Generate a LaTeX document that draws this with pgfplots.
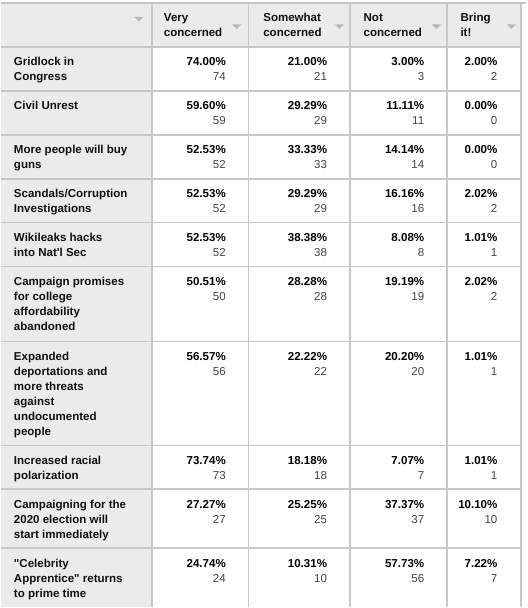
\documentclass[border=0pt]{standalone}
\usepackage{pgfplots}
\usepackage{pgfplotstable}
\pgfplotsset{compat=1.18}
\usepackage{fontspec}
\setmainfont{Liberation Sans}[Ligatures=TeXOff]
\definecolor{hdr}{HTML}{EBEBEB}
\definecolor{gridc}{HTML}{C8C8C8}
\definecolor{topc}{HTML}{C4C4C4}
\definecolor{tri}{HTML}{B8B8B8}
\definecolor{lbl}{HTML}{111111}
\definecolor{cntc}{HTML}{444444}
\newcommand\tf{\fontsize{11.55}{15}\selectfont}

% x = right edge of the cell text, y = baseline of the percentage line
\pgfplotstableread{
x y pct cnt
225.3 66 74.00 74
326.7 66 21.00 21
424.0 66 3.00 3
497.3 66 2.00 2
225.3 110 59.60 59
326.7 110 29.29 29
424.0 110 11.11 11
497.3 110 0.00 0
225.3 154 52.53 52
326.7 154 33.33 33
424.0 154 14.14 14
497.3 154 0.00 0
225.3 198 52.53 52
326.7 198 29.29 29
424.0 198 16.16 16
497.3 198 2.02 2
225.3 242 52.53 52
326.7 242 38.38 38
424.0 242 8.08 8
497.3 242 1.01 1
225.3 286 50.51 50
326.7 286 28.28 28
424.0 286 19.19 19
497.3 286 2.02 2
225.3 361 56.57 56
326.7 361 22.22 22
424.0 361 20.20 20
497.3 361 1.01 1
225.3 465 73.74 73
326.7 465 18.18 18
424.0 465 7.07 7
497.3 465 1.01 1
225.3 509 27.27 27
326.7 509 25.25 25
424.0 509 37.37 37
497.3 509 10.10 10
225.3 568 24.74 24
326.7 568 10.31 10
424.0 568 57.73 56
497.3 568 7.22 7
}\cells

\newcommand\lb[2]{\node[anchor=base west,inner sep=0pt,text=lbl,font=\tf\bfseries] at (axis cs:12.8,#1) {#2};}
\newcommand\hd[3]{\node[anchor=base west,inner sep=0pt,text=lbl,font=\tf\bfseries] at (axis cs:#1,#2) {#3};}

\begin{document}
\begin{tikzpicture}
\begin{axis}[
  scale only axis, width=526pt, height=608pt,
  xmin=0, xmax=526, ymin=0, ymax=608, y dir=reverse,
  hide axis, clip=false,
]
% page background
\addplot[fill=white, draw=none] coordinates {(0,0) (526,0) (526,608) (0,608)} -- cycle;
% header row and label column backgrounds
\addplot[fill=hdr, draw=none] coordinates {(0,3) (521,3) (521,47) (0,47)} -- cycle;
\addplot[fill=hdr, draw=none] coordinates {(0,47) (151,47) (151,608) (0,608)} -- cycle;
% top border
\addplot[draw=topc, line width=2pt] coordinates {(0,3) (526,3)};
% horizontal rules
\addplot[draw=gridc, line width=1.6pt] coordinates {(0,47) (521,47)};
\addplot[draw=gridc, line width=1.6pt] coordinates {(0,91) (521,91)};
\addplot[draw=gridc, line width=1.6pt] coordinates {(0,135) (521,135)};
\addplot[draw=gridc, line width=1.6pt] coordinates {(0,179) (521,179)};
\addplot[draw=gridc, line width=1.6pt] coordinates {(0,223) (521,223)};
\addplot[draw=gridc, line width=1.6pt] coordinates {(0,267) (521,267)};
\addplot[draw=gridc, line width=1.6pt] coordinates {(0,342) (521,342)};
\addplot[draw=gridc, line width=1.6pt] coordinates {(0,446) (521,446)};
\addplot[draw=gridc, line width=1.6pt] coordinates {(0,490) (521,490)};
\addplot[draw=gridc, line width=1.6pt] coordinates {(0,549) (521,549)};
% vertical rules
\addplot[draw=gridc, line width=1.6pt] coordinates {(151,4) (151,608)};
\addplot[draw=gridc, line width=1.6pt] coordinates {(248,4) (248,608)};
\addplot[draw=gridc, line width=1.6pt] coordinates {(349.5,4) (349.5,608)};
\addplot[draw=gridc, line width=1.8pt] coordinates {(447,4) (447,608)};
\addplot[draw=gridc, line width=1.6pt] coordinates {(521,4) (521,608)};
% header dropdown triangles
\addplot[fill=tri, draw=none] coordinates {(133.5,17) (142.5,17) (138,21.5)} -- cycle;
\addplot[fill=tri, draw=none] coordinates {(231.5,24.5) (240.5,24.5) (236,29)} -- cycle;
\addplot[fill=tri, draw=none] coordinates {(334.5,24.5) (343.5,24.5) (339,29)} -- cycle;
\addplot[fill=tri, draw=none] coordinates {(431.5,24.5) (440.5,24.5) (436,29)} -- cycle;
\addplot[fill=tri, draw=none] coordinates {(506.5,24.5) (515.5,24.5) (511,29)} -- cycle;
% header texts
\hd{163}{21.5}{Very}
\hd{163}{36.5}{concerned}
\hd{262.5}{21.5}{Somewhat}
\hd{262.5}{36.5}{concerned}
\hd{363}{21.5}{Not}
\hd{363}{36.5}{concerned}
\hd{460}{21.5}{Bring}
\hd{460}{36.5}{it!}
% row labels
\lb{66}{Gridlock in}
\lb{81}{Congress}
\lb{110}{Civil Unrest}
\lb{154}{More people will buy}
\lb{169}{guns}
\lb{198}{Scandals/Corruption}
\lb{213}{Investigations}
\lb{242}{Wikileaks hacks}
\lb{257}{into Nat'l Sec}
\lb{286}{Campaign promises}
\lb{301}{for college}
\lb{316}{affordability}
\lb{331}{abandoned}
\lb{361}{Expanded}
\lb{376}{deportations and}
\lb{391}{more threats}
\lb{406}{against}
\lb{421}{undocumented}
\lb{436}{people}
\lb{465}{Increased racial}
\lb{480}{polarization}
\lb{509}{Campaigning for the}
\lb{524}{2020 election will}
\lb{539}{start immediately}
\lb{568}{"Celebrity}
\lb{583}{Apprentice" returns}
\lb{598}{to prime time}
% cell values
\addplot[draw=none, mark=none, point meta=explicit symbolic,
  nodes near coords={\pgfplotspointmeta\%},
  nodes near coords style={anchor=base east, inner sep=0pt, font=\tf\bfseries, text=black}]
  table[x=x, y=y, meta=pct] {\cells};
\addplot[draw=none, mark=none, point meta=explicit symbolic,
  nodes near coords={\pgfplotspointmeta},
  nodes near coords style={anchor=base east, inner sep=0pt, font=\tf, text=cntc}]
  table[x=x, y expr=\thisrow{y}+15, meta=cnt] {\cells};
\end{axis}
\end{tikzpicture}
\end{document}
